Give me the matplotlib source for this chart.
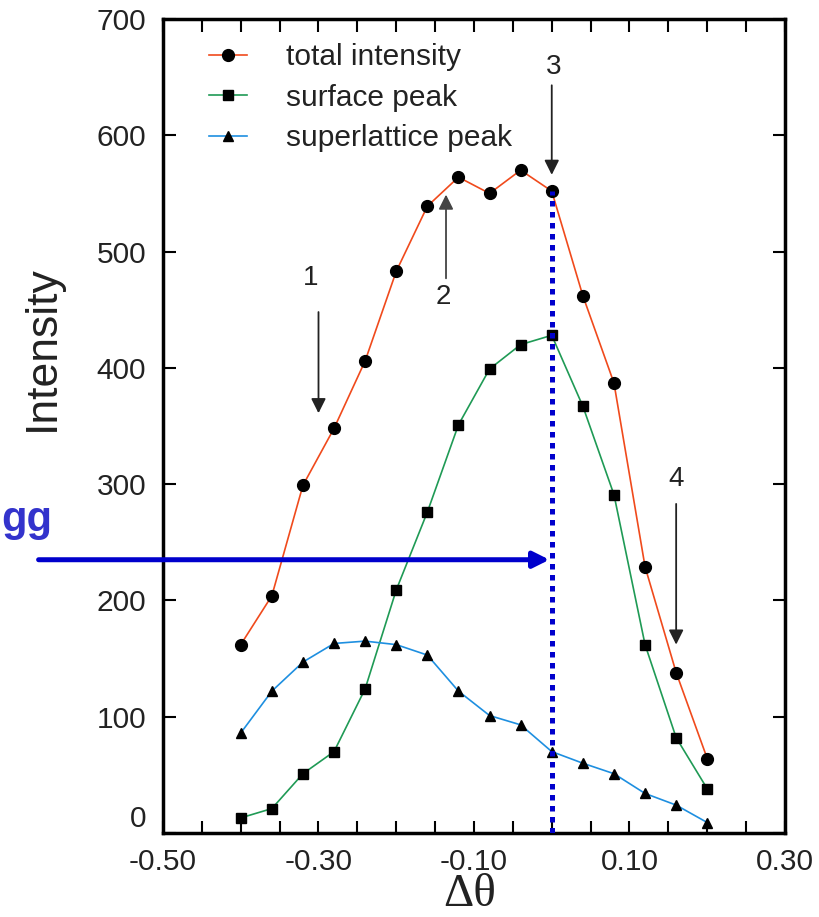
import numpy as np
import matplotlib.pyplot as plt

plt.rcParams['font.family'] = ['Liberation Sans', 'DejaVu Sans']

dtheta = [-0.40, -0.36, -0.32, -0.28, -0.24, -0.20, -0.16, -0.12,
          -0.08, -0.04, 0.00, 0.04, 0.08, 0.12, 0.16, 0.20]
total = [162, 204, 299, 348, 406, 483, 539, 564, 550, 570, 552, 462, 387, 229, 138, 64]
surface = [13, 21, 51, 70, 124, 209, 276, 351, 399, 420, 428, 367, 291, 162, 82, 38]
superlattice = [86, 122, 147, 163, 165, 162, 153, 122, 101, 93, 70, 60, 51, 34, 24, 9]

xticks = [-0.50, -0.30, -0.10, 0.10, 0.30]
yticks = [0, 100, 200, 300, 400, 500, 600, 700]

W, H = 820, 917
fig = plt.figure(figsize=(W / 100, H / 100), dpi=100)
ax = fig.add_axes([163 / W, 1 - 833 / H, (785 - 163) / W, (833 - 19) / H])

ax.plot(dtheta, total, color='#f04a1c', lw=1.2, marker='o', ms=8.5,
        mfc='black', mec='black', label='total intensity')
ax.plot(dtheta, surface, color='#1f9a55', lw=1.2, marker='s', ms=7.5,
        mfc='black', mec='black', label='surface peak')
ax.plot(dtheta, superlattice, color='#1e8fe0', lw=1.2, marker='^', ms=7.5,
        mfc='black', mec='black', label='superlattice peak')

# dotted line at the bragg position
ax.vlines(0.0, 0, total[10], colors='#0000cc', lw=3.6, linestyles=(0, (1.1, 1.1)), zorder=4)

ax.set_xlim(-0.5, 0.3)
ax.set_ylim(0, 700)
ax.set_xticks(xticks)
ax.set_xticklabels(['%.2f' % v for v in xticks])
ax.set_xticks(np.arange(-0.5, 0.301, 0.05), minor=True)
ax.set_yticks(yticks)
ax.tick_params(which='both', direction='in', top=True, right=True, labelsize=21.5,
               labelcolor='#222222', width=1.5, length=9)
ax.tick_params(axis='x', pad=11)
ax.tick_params(axis='y', pad=12)
ax.get_yticklabels()[0].set_va('bottom')
for s in ax.spines.values():
    s.set_linewidth(2.5)

ax.legend(loc='upper left', bbox_to_anchor=(0.055, 0.985), frameon=False, fontsize=21.5,
          handlelength=1.27, handletextpad=1.3, labelspacing=0.42, borderaxespad=0,
          labelcolor='#222222')

arr = dict(arrowstyle='-|>', mutation_scale=22, lw=1.3, color='#222222', shrinkA=0, shrinkB=0)
ax.annotate('', xy=(-0.30, 361), xytext=(-0.30, 448), arrowprops=arr)
ax.text(-0.31, 477, '1', ha='center', va='center', fontsize=20, color='#222222')
ax.annotate('', xy=(-0.136, 549), xytext=(-0.136, 477),
            arrowprops=dict(arr, color='#444444'))
ax.text(-0.14, 461, '2', ha='center', va='center', fontsize=20, color='#222222')
ax.annotate('', xy=(0.0, 566), xytext=(0.0, 643), arrowprops=arr)
ax.text(0.002, 659, '3', ha='center', va='center', fontsize=20, color='#222222')
ax.annotate('', xy=(0.16, 162), xytext=(0.16, 283), arrowprops=arr)
ax.text(0.16, 304, '4', ha='center', va='center', fontsize=20, color='#222222')

# blue arrow coming in from the left
ax.annotate('', xy=(-0.003, 235), xytext=(-0.66, 235), annotation_clip=False,
            arrowprops=dict(arrowstyle='-|>', mutation_scale=24, lw=3.6,
                            color='#0000cc', shrinkA=0, shrinkB=0))
fig.text(1 / W, 1 - 520 / H, 'gg', ha='left', va='center', fontsize=30,
         fontweight='bold', color='#3333cc')

fig.text(42 / W, 1 - 348 / H, 'Intensity', rotation=90, ha='center', va='center',
         fontsize=32, color='#222222')
fig.text(470 / W, 1 - 895 / H, 'Δθ', ha='center', va='center', fontsize=34,
         family='Liberation Serif', color='#222222')

fig.savefig('out.png', dpi=100)
